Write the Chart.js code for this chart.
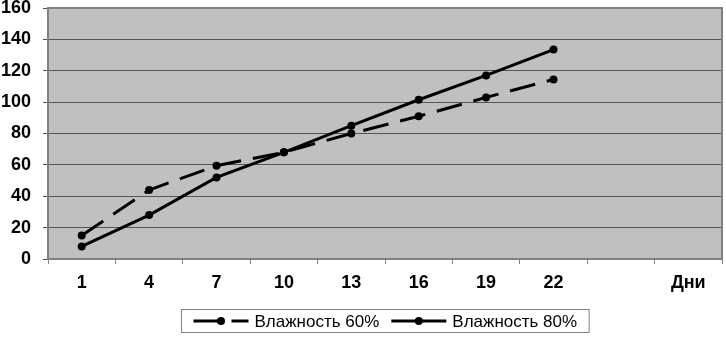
<!DOCTYPE html>
<html>
<head>
<meta charset="utf-8">
<script src="https://cdn.jsdelivr.net/npm/chart.js@4/dist/chart.umd.min.js"></script>
<style>
  html, body { margin: 0; padding: 0; background: #fff; }
  #wrap { width: 726px; height: 340px; }
</style>
</head>
<body>
<div id="wrap"><canvas id="chart"></canvas></div>
<script>
const days = ['1', '4', '7', '10', '13', '16', '19', '22', '', 'Дни'];
const humidity60 = [15, 44, 59.5, 68, 80, 91, 103, 114.5, null, null];
const humidity80 = [8, 28, 52, 68, 85, 101.5, 117, 133.5, null, null];
const yTicks = [0, 20, 40, 60, 80, 100, 120, 140, 160];

const axisFont = { family: 'Liberation Sans, Arial, sans-serif', size: 18, weight: 'bold' };

// gray plot area + frame
const plotBackground = {
  id: 'plotBackground',
  beforeDraw(chart) {
    const { ctx, chartArea: a } = chart;
    ctx.save();
    ctx.fillStyle = '#c0c0c0';
    ctx.fillRect(a.left, a.top, a.right - a.left, a.bottom - a.top);
    ctx.restore();
  },
  beforeDatasetsDraw(chart) {
    const { ctx, chartArea: a } = chart;
    ctx.save();
    ctx.strokeStyle = '#808080';
    ctx.lineWidth = 2;
    ctx.strokeRect(a.left, a.top, a.right - a.left, a.bottom - a.top);
    ctx.restore();
  }
};

// legend with line samples, boxed under the axis
const lineLegend = {
  id: 'lineLegend',
  afterDraw(chart) {
    const { ctx, chartArea: a } = chart;
    const lineLen = 55, gapText = 6, gapItem = 12, pad = 12;
    ctx.save();
    ctx.font = '17px "Liberation Sans", Arial, sans-serif';
    const items = chart.data.datasets.map(ds => ({ ds, w: ctx.measureText(ds.label).width }));
    let total = pad * 2;
    items.forEach((it, i) => { total += lineLen + gapText + it.w + (i ? gapItem : 0); });
    const boxX = Math.round((a.left + a.right) / 2 - total / 2) + 0.5;
    const boxY = 309.5, boxH = 23;
    ctx.strokeStyle = '#808080';
    ctx.lineWidth = 1;
    ctx.strokeRect(boxX, boxY, total, boxH);
    const cy = boxY + boxH / 2;
    let x = boxX + pad;
    items.forEach((it, i) => {
      if (i) x += gapItem;
      ctx.strokeStyle = it.ds.borderColor;
      ctx.lineWidth = it.ds.borderWidth;
      ctx.setLineDash(it.ds.borderDash || []);
      ctx.beginPath();
      ctx.moveTo(x, cy);
      ctx.lineTo(x + lineLen, cy);
      ctx.stroke();
      ctx.setLineDash([]);
      ctx.fillStyle = it.ds.pointBackgroundColor;
      ctx.beginPath();
      ctx.arc(x + lineLen / 2, cy, it.ds.pointRadius, 0, Math.PI * 2);
      ctx.fill();
      x += lineLen + gapText;
      ctx.fillStyle = '#000';
      ctx.textBaseline = 'middle';
      ctx.fillText(it.ds.label, x, cy + 1);
      x += it.w;
    });
    ctx.restore();
  }
};

new Chart(document.getElementById('chart'), {
  type: 'line',
  data: {
    labels: days,
    datasets: [{
      label: 'Влажность 60%',
      data: humidity60,
      borderColor: '#000',
      borderWidth: 3,
      borderDash: [26, 12],
      pointRadius: 4,
      pointBackgroundColor: '#000',
      pointBorderWidth: 0,
      tension: 0
    }, {
      label: 'Влажность 80%',
      data: humidity80,
      borderColor: '#000',
      borderWidth: 3,
      pointRadius: 4,
      pointBackgroundColor: '#000',
      pointBorderWidth: 0,
      tension: 0
    }]
  },
  options: {
    responsive: true,
    maintainAspectRatio: false,
    animation: false,
    layout: { padding: { top: 8, right: 2, bottom: 46, left: 0 } },
    plugins: {
      legend: { display: false },
      tooltip: { enabled: false }
    },
    scales: {
      x: {
        offset: true,
        grid: {
          offset: true,
          drawOnChartArea: false,
          drawTicks: true,
          tickLength: 5,
          color: '#808080'
        },
        border: { display: false },
        ticks: { font: axisFont, color: '#000', padding: 8, maxRotation: 0, autoSkip: false },
        afterFit(scale) {
          scale.height = 35;
          scale.paddingLeft = 0;
          scale.paddingRight = 0;
        }
      },
      y: {
        min: 0,
        max: 160,
        afterBuildTicks(scale) { scale.ticks = yTicks.map(v => ({ value: v })); },
        grid: { color: '#555', lineWidth: 1, tickLength: 5 },
        border: { display: false },
        ticks: { font: axisFont, color: '#000', padding: 12 },
        afterFit(scale) {
          scale.width = 48;
          scale.paddingTop = 0;
          scale.paddingBottom = 0;
        }
      }
    }
  },
  plugins: [plotBackground, lineLegend]
});
</script>
</body>
</html>
